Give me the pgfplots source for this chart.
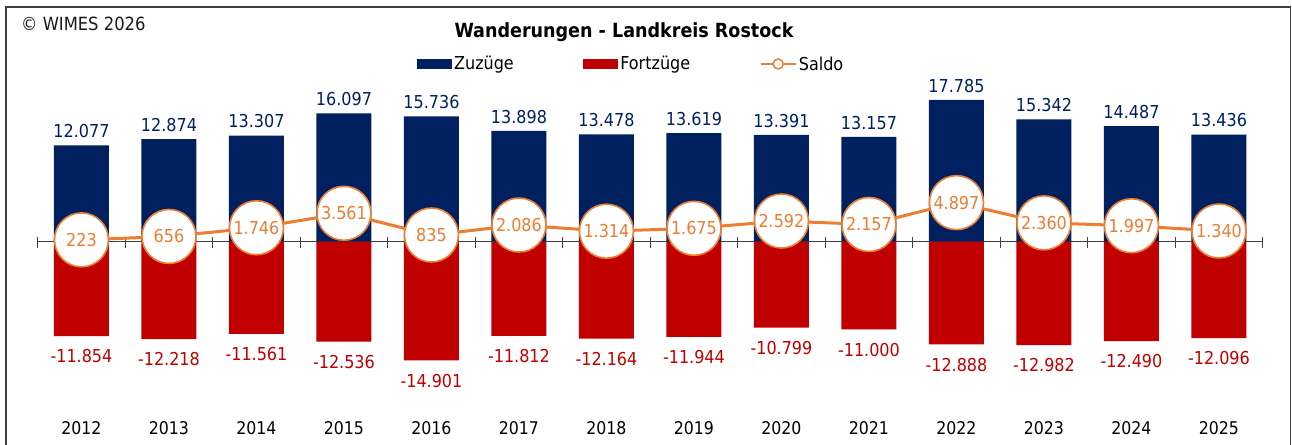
\documentclass[border=0pt]{standalone}
\usepackage{pgfplots}
\pgfplotsset{compat=1.18}
\usepackage{fontspec}
\setmainfont{DejaVu Sans Condensed}
\definecolor{navy}{HTML}{002060}
\definecolor{dred}{HTML}{C00000}
\definecolor{sorange}{HTML}{ED7D31}
\newcommand{\lab}{\fontsize{17.8bp}{20bp}\selectfont}
\begin{document}
\begin{tikzpicture}
\useasboundingbox (0,0) rectangle (1292bp,445bp);
\draw[line width=1.3bp, black!75] (6bp,-2bp) -- (6bp,438bp) -- (1290.7bp,438bp) -- (1290.7bp,-2bp);
\node[anchor=west, font=\fontsize{18.2bp}{20bp}\selectfont, inner sep=0, text=black!90] at (21bp,421bp) {© WIMES 2026};
\begin{axis}[
  at={(37.7bp,29.6bp)}, anchor=south west,
  scale only axis, width=1225bp, height=335.5bp,
  xmin=-0.5, xmax=13.5, ymin=-21800, ymax=20300,
  hide y axis,
  axis x line*=bottom,
  x axis line style={draw=none},
  major tick length=0pt,
  xtick={0,...,13},
  xticklabels={2012,2013,2014,2015,2016,2017,2018,2019,2020,2021,2022,2023,2024,2025},
  xticklabel style={font=\fontsize{17.5bp}{19bp}\selectfont, text=black, yshift=-3bp},
  clip=false,
  title={Wanderungen - Landkreis Rostock},
  title style={at={(0.4786,1.1249)}, anchor=center, font=\bfseries\fontsize{19.5bp}{21bp}\selectfont},
  legend columns=3,
  legend style={at={(0.3096,1.0474)}, anchor=west, draw=none, fill=none, inner sep=0pt,
    font=\lab, /tikz/every even column/.append style={column sep=67.5bp},
    cells={anchor=west}},
]
\draw[black!75, line width=0.9bp] (axis cs:-0.5,0) -- (axis cs:13.5,0);
\pgfplotsinvokeforeach{-0.5,0.5,...,13.5}{
  \draw[black!75, line width=0.9bp] ([yshift=5bp]axis cs:#1,0) -- ([yshift=-6bp]axis cs:#1,0);
}
\addplot[ybar, bar width=55bp, bar shift=0pt, fill=navy, draw=none,
  nodes near coords, point meta=explicit symbolic,
  every node near coord/.append style={anchor=south, text=navy, font=\lab, yshift=4bp},
  legend image code/.code={\fill[navy] (0bp,-5bp) rectangle (35bp,5bp);}]
  coordinates {(0,12077)[12.077] (1,12874)[12.874] (2,13307)[13.307] (3,16097)[16.097]
  (4,15736)[15.736] (5,13898)[13.898] (6,13478)[13.478] (7,13619)[13.619]
  (8,13391)[13.391] (9,13157)[13.157] (10,17785)[17.785] (11,15342)[15.342]
  (12,14487)[14.487] (13,13436)[13.436]};
\addlegendentry{Zuzüge}
\addplot[ybar, bar width=55bp, bar shift=0pt, fill=dred, draw=none,
  nodes near coords, point meta=explicit symbolic,
  every node near coord/.append style={anchor=north, text=dred, font=\lab, yshift=-10bp},
  legend image code/.code={\fill[dred] (0bp,-5bp) rectangle (35bp,5bp);}]
  coordinates {(0,-11854)[-11.854] (1,-12218)[-12.218] (2,-11561)[-11.561] (3,-12536)[-12.536]
  (4,-14901)[-14.901] (5,-11812)[-11.812] (6,-12164)[-12.164] (7,-11944)[-11.944]
  (8,-10799)[-10.799] (9,-11000)[-11.000] (10,-12888)[-12.888] (11,-12982)[-12.982]
  (12,-12490)[-12.490] (13,-12096)[-12.096]};
\addlegendentry{Fortzüge}
\addplot[sorange, line width=3bp, mark=*, mark size=27bp,
  mark options={fill=white, draw=sorange, line width=1.6bp, solid},
  nodes near coords, point meta=explicit symbolic,
  every node near coord/.append style={anchor=center, text=sorange, font=\lab},
  legend image code/.code={\draw[sorange, line width=2.2bp] (0bp,0bp) -- (35bp,0bp);
    \draw[sorange, fill=white, line width=1.5bp] (17.5bp,0bp) circle (5bp);}]
  coordinates {(0,223)[223] (1,656)[656] (2,1746)[1.746] (3,3561)[3.561]
  (4,835)[835] (5,2086)[2.086] (6,1314)[1.314] (7,1675)[1.675]
  (8,2592)[2.592] (9,2157)[2.157] (10,4897)[4.897] (11,2360)[2.360]
  (12,1997)[1.997] (13,1340)[1.340]};
\addlegendentry{Saldo}
\end{axis}
\end{tikzpicture}
\end{document}
